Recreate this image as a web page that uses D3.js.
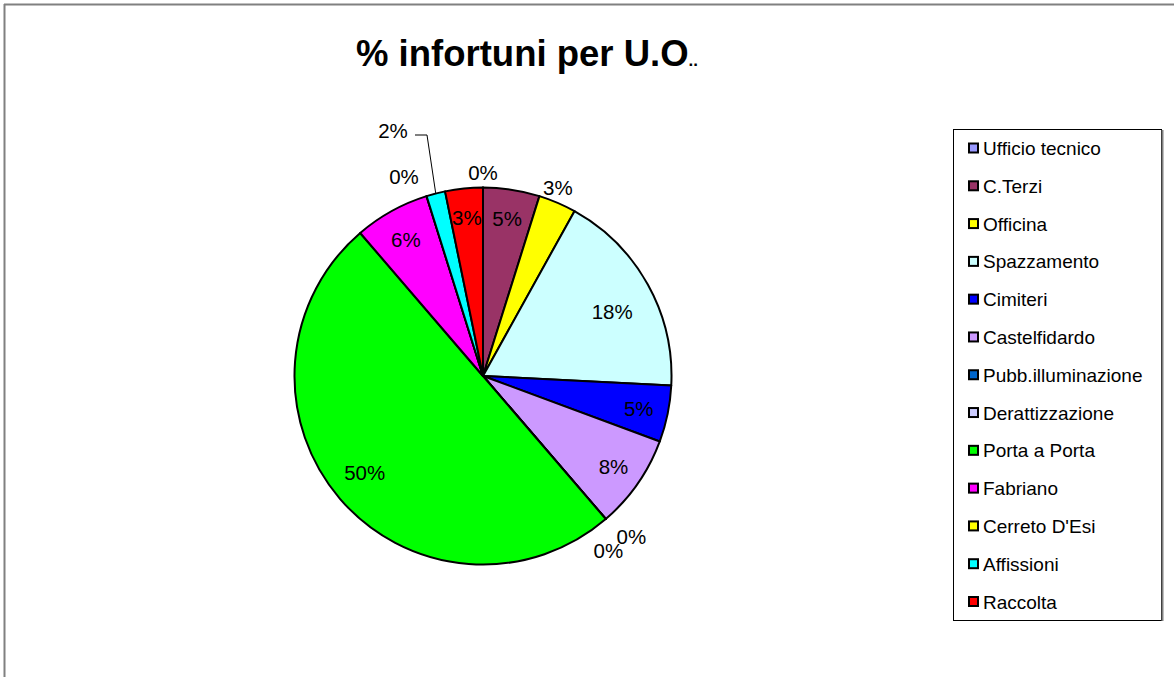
<!DOCTYPE html>
<html>
<head>
<meta charset="utf-8">
<script src="https://cdn.jsdelivr.net/npm/d3@7"></script>
<style>
  html, body { margin: 0; padding: 0; background: #fff; }
  svg { display: block; font-family: "Liberation Sans", Arial, sans-serif; }
</style>
</head>
<body>
<svg id="chart" width="1174" height="677"></svg>
<script>
// ---- data ----
const categories = ["Ufficio tecnico", "C.Terzi", "Officina", "Spazzamento", "Cimiteri",
  "Castelfidardo", "Pubb.illuminazione", "Derattizzazione", "Porta a Porta", "Fabriano",
  "Cerreto D'Esi", "Affissioni", "Raccolta"];
const values = [0, 3, 2, 11, 3, 5, 0, 0, 31, 4, 0, 1, 2];
const colors = ["#9999FF", "#993366", "#FFFF00", "#CCFFFF", "#0000FF", "#CC99FF",
  "#0066CC", "#CCCCFF", "#00FF00", "#FF00FF", "#FFFF00", "#00FFFF", "#FF0000"];
const titleText = "% infortuni per U.O";
const titleSuffix = "..";

// ---- drawing ----
const svg = d3.select("#chart");
const W = 1174, H = 677;

svg.append("line").attr("x1", 4).attr("y1", 4.5).attr("x2", W).attr("y2", 4.5)
  .attr("stroke", "#808080").attr("stroke-width", 2);
svg.append("line").attr("x1", 4.5).attr("y1", 4).attr("x2", 4.5).attr("y2", H)
  .attr("stroke", "#808080").attr("stroke-width", 2);

// title
const title = svg.append("text").attr("x", 527).attr("y", 66)
  .attr("text-anchor", "middle").attr("font-weight", "bold").attr("font-size", 36.5);
title.append("tspan").text(titleText);
title.append("tspan").attr("font-size", 17).text(titleSuffix);

// pie
const cx = 483, cy = 376, R = 188.5;
const total = d3.sum(values);
const pie = d3.pie().sort(null).value(d => d.v);
const data = categories.map((c, i) => ({ c, v: values[i], col: colors[i], i }));
const arcs = pie(data);
const arc = d3.arc().innerRadius(0).outerRadius(R);

const g = svg.append("g").attr("transform", `translate(${cx},${cy})`);
g.selectAll("path.slice").data(arcs).enter().append("path")
  .attr("class", "slice")
  .attr("d", arc)
  .attr("fill", d => d.data.col)
  .attr("stroke", "#000").attr("stroke-width", 2).attr("stroke-linejoin", "round");

// labels
const fmt = v => Math.round(v / total * 100) + "%";
const placement = {
  "Ufficio tecnico": { r: 204, dx: 0, dy: 0 },
  "Officina": { r: 205, dx: -6, dy: 0 },
  "Spazzamento": { r: 150, dx: -2, dy: 8 },
  "Porta a Porta": { r: 156, dx: 0, dy: -5 },
  "Fabriano": { r: 159, dx: 0, dy: 3 },
  "Pubb.illuminazione": { r: 214, dx: -14, dy: 12 },
  "Derattizzazione": { r: 214, dx: 9, dy: -2 },
  "Cerreto D'Esi": { r: 214, dx: -15, dy: 5 }
};
function polar(a, r) { return [r * Math.sin(a), -r * Math.cos(a)]; }

arcs.forEach(d => {
  const mid = (d.startAngle + d.endAngle) / 2;
  let x, y;
  if (d.data.c === "Affissioni") {
    x = 393 - cx; y = 130 - cy;
    const edge = polar(mid, R);
    g.append("polyline")
      .attr("points", [[415 - cx, 135 - cy], [427 - cx, 135 - cy], [edge[0], edge[1]]].map(p => p.join(",")).join(" "))
      .attr("fill", "none").attr("stroke", "#000").attr("stroke-width", 1);
  } else if (placement[d.data.c]) {
    const p = placement[d.data.c];
    [x, y] = polar(mid, p.r);
    x += p.dx; y += p.dy;
  } else {
    [x, y] = polar(mid, 159);
  }
  g.append("text").attr("x", x).attr("y", y)
    .attr("text-anchor", "middle").attr("dominant-baseline", "central")
    .attr("font-size", 20.5).attr("fill", "#000")
    .text(fmt(d.data.v));
});

// legend
const lg = svg.append("g");
lg.append("rect").attr("x", 953.5).attr("y", 129.5).attr("width", 208).attr("height", 491)
  .attr("fill", "#fff").attr("stroke", "#000").attr("stroke-width", 1);
lg.append("line").attr("x1", 1162.5).attr("y1", 130).attr("x2", 1162.5).attr("y2", 621)
  .attr("stroke", "#808080").attr("stroke-width", 2);
const ly = d3.scalePoint().domain(categories).range([148.5, 602]);
categories.forEach((c, i) => {
  const y = ly(c);
  lg.append("rect").attr("x", 969).attr("y", y - 5).attr("width", 9).attr("height", 9)
    .attr("fill", colors[i]).attr("stroke", "#000").attr("stroke-width", 2);
  lg.append("text").attr("x", 983).attr("y", y).attr("dominant-baseline", "central")
    .attr("font-size", 19).text(c);
});
</script>
</body>
</html>
